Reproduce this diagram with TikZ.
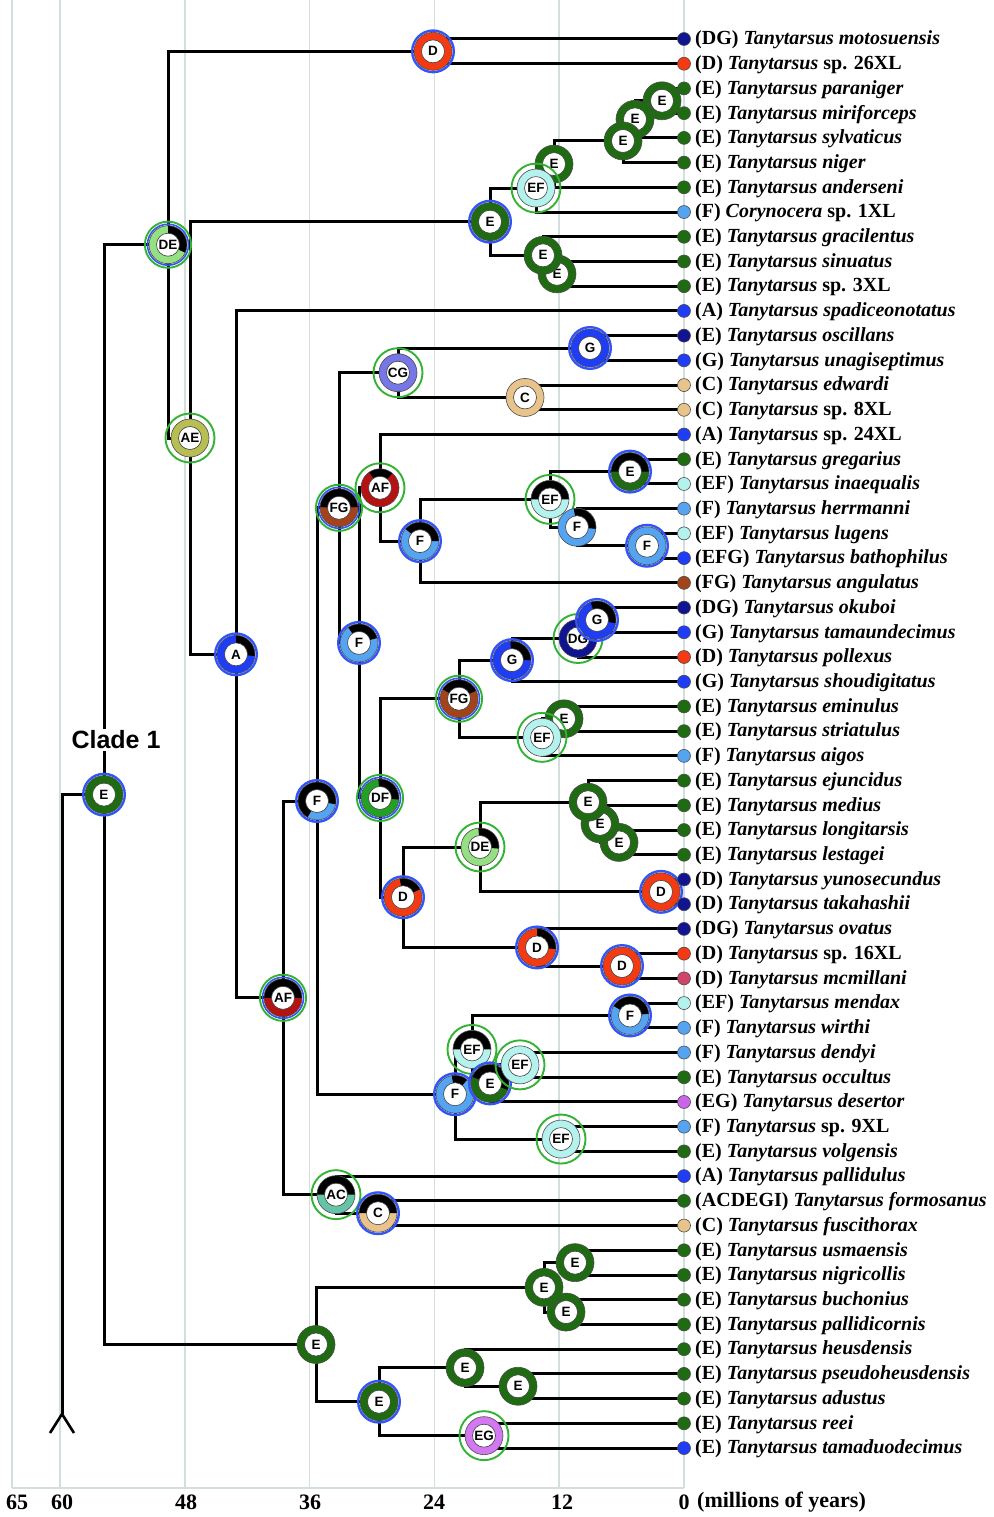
\documentclass[tikz,border=0pt]{standalone}
\usepackage{fontspec}
\setmainfont{Liberation Serif}
\setsansfont{Liberation Sans}
\definecolor{cE}{HTML}{1E6B12}
\definecolor{cD}{HTML}{F43A12}
\definecolor{cN}{HTML}{101490}
\definecolor{cB}{HTML}{1F3DF5}
\definecolor{cF}{HTML}{55A4F2}
\definecolor{cEF}{HTML}{B4F2EE}
\definecolor{cC}{HTML}{E9C38C}
\definecolor{cFG}{HTML}{A3431B}
\definecolor{cAF}{HTML}{B51212}
\definecolor{cDE}{HTML}{94E083}
\definecolor{cAE}{HTML}{B7BF52}
\definecolor{cCG}{HTML}{7676E6}
\definecolor{cDF}{HTML}{22A126}
\definecolor{cAC}{HTML}{66C4A6}
\definecolor{cEG}{HTML}{D477F2}
\definecolor{cMc}{HTML}{D0456A}
\definecolor{cEGt}{HTML}{C865E8}
\definecolor{ringBc}{HTML}{3355F5}
\definecolor{ringGc}{HTML}{33B333}
\definecolor{gridc}{HTML}{D3DEDE}
\newcommand{\pie}[5]{%
  \fill[#2] (#1) circle (19);
  \ifdim #4pt=#5pt\relax\else
    \fill[black] (#1) -- ++(#4:19) arc[start angle=#4,end angle=#5,radius=19] -- cycle;
  \fi
  \draw[ringline] (#1) circle (19);
  \node[lab] (#1l) at (#1) {#3};
}
\newcommand{\ringb}[1]{\draw[ringBc,line width=2.4pt] (#1) circle (20.8);}
\newcommand{\ringg}[1]{\draw[ringGc,line width=1.9pt] (#1) circle (24.5);}
\newcommand{\ringbg}[1]{\draw[ringGc,line width=1.9pt] (#1) circle (23.1);\draw[ringBc,line width=1.6pt] (#1) circle (20.5);}
\begin{document}
\begin{tikzpicture}[x=1pt,y=1pt,
  edge/.style={line width=3pt,black},
  gridln/.style={line width=1.6pt,color=gridc},
  ringline/.style={draw=black!70,line width=0.6pt},
  lab/.style={circle,fill=white,draw=black!75,line width=0.6pt,minimum size=23pt,inner sep=0pt,font=\sffamily\bfseries\fontsize{13.5}{13.5}\selectfont},
  tipdot/.style={circle,draw=black!70,line width=0.6pt,minimum size=13pt,inner sep=0pt},
  tiplab/.style={anchor=west,inner sep=0pt,font=\bfseries\fontsize{20}{20}\selectfont},
  axlab/.style={font=\bfseries\fontsize{22}{22}\selectfont,inner sep=0pt},
  cladelab/.style={fill=white,inner sep=2pt,font=\sffamily\bfseries\fontsize{25}{25}\selectfont}]
\useasboundingbox (0,0) rectangle (993,-1517);
% grid
\foreach \gx in {12,60,184.8,309.6,434.4,559.2,684}{\draw[gridln] (\gx,0) -- (\gx,-1488);}
\draw[gridln] (12,-1488) -- (684,-1488);
% tip coordinates
\foreach \i in {0,...,57}{\coordinate (t\i) at (684,{-39-24.72*\i});}
% internal nodes
\coordinate (d1) at (433,-51.35);
\coordinate (ea) at (662,-100.8);
\coordinate (eb) at (635,-119.35);
\coordinate (ec) at (623,-140.98);
\coordinate (ed) at (554,-164.14);
\coordinate (efe) at (536,-188.07);
\coordinate (ef) at (557,-273.85);
\coordinate (eg) at (543,-255.33);
\coordinate (eh) at (490,-221.7);
\coordinate (g1) at (590,-348.0);
\coordinate (c1) at (525,-397.45);
\coordinate (cg) at (398,-372.7);
\coordinate (e2) at (630,-471.6);
\coordinate (f2) at (647,-545.75);
\coordinate (f3) at (577,-527.2);
\coordinate (ef2) at (550,-499.4);
\coordinate (f4) at (420,-541.1);
\coordinate (af2) at (380,-487.8);
\coordinate (g2) at (597,-619.95);
\coordinate (dg) at (578,-638.5);
\coordinate (g3) at (512,-660.1);
\coordinate (e3) at (564,-718.8);
\coordinate (ef3) at (542,-737.35);
\coordinate (fg2) at (459,-698.7);
\coordinate (e4) at (619,-842.4);
\coordinate (e5) at (600,-823.85);
\coordinate (e6) at (588,-802.2);
\coordinate (d2) at (661,-891.85);
\coordinate (de2) at (480,-847.0);
\coordinate (d3) at (622,-966.0);
\coordinate (d4) at (537,-947.45);
\coordinate (d5) at (403,-897.2);
\coordinate (df) at (380,-797.95);
\coordinate (f5) at (359,-642.9);
\coordinate (fg) at (339,-507.8);
\coordinate (f6) at (630,-1015.45);
\coordinate (ef4) at (520,-1064.85);
\coordinate (e7) at (490,-1083.4);
\coordinate (ef5) at (472,-1049.4);
\coordinate (ef6) at (561,-1139.05);
\coordinate (f7) at (455,-1094.2);
\coordinate (f8) at (317,-801.0);
\coordinate (c2) at (378,-1213.2);
\coordinate (ac) at (336,-1194.65);
\coordinate (af1) at (283,-997.8);
\coordinate (a) at (236,-654.35);
\coordinate (ae) at (190,-438.0);
\coordinate (de1) at (168,-244.7);
\coordinate (e8) at (575,-1262.65);
\coordinate (e9) at (566,-1312.05);
\coordinate (e10) at (544,-1287.35);
\coordinate (e11) at (518,-1386.25);
\coordinate (e12) at (465,-1367.7);
\coordinate (egx) at (484,-1435.65);
\coordinate (e13) at (379,-1401.7);
\coordinate (e14) at (316,-1344.5);
\coordinate (er) at (104,-794.6);
\coordinate (rt) at (62,-794.6);
\coordinate (fk) at (62,-1414);
\coordinate (fl) at (50,-1433);
\coordinate (fr) at (74,-1433);
% edges
\foreach \p/\c in {er/de1,er/e14,de1/d1,de1/ae,d1/t0,d1/t1,ae/eh,ae/a,eh/efe,eh/eg,
  efe/ed,efe/t7,ed/ec,ed/t6,ec/eb,ec/t5,eb/ea,eb/t4,ea/t2,ea/t3,eg/t8,eg/ef,ef/t9,ef/t10,
  a/t11,a/af1,af1/f8,af1/ac,f8/fg,f8/f7,fg/cg,fg/f5,cg/g1,cg/c1,g1/t12,g1/t13,c1/t14,c1/t15,
  f5/af2,f5/df,af2/t16,af2/f4,f4/ef2,f4/t22,ef2/e2,ef2/f3,e2/t17,e2/t18,f3/t19,f3/f2,f2/t20,f2/t21,
  df/fg2,df/d5,fg2/g3,fg2/ef3,g3/dg,g3/t26,dg/g2,dg/t25,g2/t23,g2/t24,ef3/e3,ef3/t29,e3/t27,e3/t28,
  d5/de2,d5/d4,de2/e6,de2/d2,e6/t30,e6/e5,e5/t31,e5/e4,e4/t32,e4/t33,d2/t34,d2/t35,d4/t36,d4/d3,d3/t37,d3/t38,
  f7/ef5,f7/ef6,ef5/f6,ef5/e7,f6/t39,f6/t40,e7/ef4,e7/t43,ef4/t41,ef4/t42,ef6/t44,ef6/t45,
  ac/t46,ac/c2,c2/t47,c2/t48,e14/e10,e14/e13,e10/e8,e10/e9,e8/t49,e8/t50,e9/t51,e9/t52,
  e13/e12,e13/egx,e12/t53,e12/e11,e11/t54,e11/t55,egx/t56,egx/t57}
  {\draw[edge] (\p) |- (\c);}
\draw[edge] (er) -- (rt) -- (fk);
\draw[edge,line width=2.6pt] (fl) -- (fk) -- (fr);
\node[cladelab] (clade) at (116,-740) {Clade 1};
% pies
\ringbg{de1}\pie{de1}{cDE}{DE}{90}{-25}
\ringg{ae}\pie{ae}{cAE}{AE}{0}{0}
\ringb{d1}\pie{d1}{cD}{D}{0}{0}
\pie{ea}{cE}{E}{0}{0}
\pie{eb}{cE}{E}{0}{0}
\pie{ec}{cE}{E}{0}{0}
\pie{ed}{cE}{E}{0}{0}
\ringg{efe}\pie{efe}{cEF}{EF}{0}{0}
\pie{ef}{cE}{E}{0}{0}
\pie{eg}{cE}{E}{0}{0}
\ringb{eh}\pie{eh}{cE}{E}{0}{0}
\ringb{a}\pie{a}{cB}{A}{90}{-5}
\ringbg{af1}\pie{af1}{cAF}{AF}{180}{0}
\ringb{f8}\pie{f8}{cF}{F}{240}{-10}
\ringbg{fg}\pie{fg}{cFG}{FG}{178}{2}
\ringg{cg}\pie{cg}{cCG}{CG}{0}{0}
\ringb{g1}\pie{g1}{cB}{G}{0}{0}
\pie{c1}{cC}{C}{0}{0}
\ringb{f5}\pie{f5}{cF}{F}{125}{15}
\ringg{af2}\pie{af2}{cAF}{AF}{125}{50}
\ringb{f4}\pie{f4}{cF}{F}{140}{0}
\ringg{ef2}\pie{ef2}{cEF}{EF}{180}{0}
\ringb{e2}\pie{e2}{cE}{E}{180}{0}
\pie{f3}{cF}{F}{100}{-5}
\ringb{f2}\pie{f2}{cF}{F}{0}{0}
\ringbg{df}\pie{df}{cDF}{DF}{95}{-5}
\ringbg{fg2}\pie{fg2}{cFG}{FG}{150}{25}
\ringb{g3}\pie{g3}{cB}{G}{95}{0}
\ringg{dg}\pie{dg}{cN}{DG}{0}{0}
\ringb{g2}\pie{g2}{cB}{G}{110}{-10}
\pie{e3}{cE}{E}{0}{0}
\ringg{ef3}\pie{ef3}{cEF}{EF}{0}{0}
\ringb{d5}\pie{d5}{cD}{D}{100}{25}
\ringg{de2}\pie{de2}{cDE}{DE}{95}{-5}
\pie{e4}{cE}{E}{0}{0}
\pie{e5}{cE}{E}{0}{0}
\pie{e6}{cE}{E}{0}{0}
\ringb{d2}\pie{d2}{cD}{D}{0}{0}
\ringb{d4}\pie{d4}{cD}{D}{90}{-5}
\ringb{d3}\pie{d3}{cD}{D}{0}{0}
\ringb{f7}\pie{f7}{cF}{F}{100}{50}
\ringg{ef5}\pie{ef5}{cEF}{EF}{180}{0}
\ringb{f6}\pie{f6}{cF}{F}{150}{5}
\ringb{e7}\pie{e7}{cE}{E}{160}{-20}
\ringg{ef4}\pie{ef4}{cEF}{EF}{0}{0}
\ringg{ef6}\pie{ef6}{cEF}{EF}{0}{0}
\ringg{ac}\pie{ac}{cAC}{AC}{180}{0}
\ringb{c2}\pie{c2}{cC}{C}{180}{0}
\pie{e14}{cE}{E}{0}{0}
\pie{e8}{cE}{E}{0}{0}
\pie{e9}{cE}{E}{0}{0}
\pie{e10}{cE}{E}{0}{0}
\ringb{e13}\pie{e13}{cE}{E}{0}{0}
\pie{e12}{cE}{E}{0}{0}
\pie{e11}{cE}{E}{0}{0}
\ringg{egx}\pie{egx}{cEG}{EG}{0}{0}
\ringb{er}\pie{er}{cE}{E}{0}{0}
% tips
\foreach \i/\c/\txt in {
0/cN/{(DG) \textit{Tanytarsus motosuensis}},
1/cD/{(D) \textit{Tanytarsus} sp. 26XL},
2/cE/{(E) \textit{Tanytarsus paraniger}},
3/cE/{(E) \textit{Tanytarsus miriforceps}},
4/cE/{(E) \textit{Tanytarsus sylvaticus}},
5/cE/{(E) \textit{Tanytarsus niger}},
6/cE/{(E) \textit{Tanytarsus anderseni}},
7/cF/{(F) \textit{Corynocera} sp. 1XL},
8/cE/{(E) \textit{Tanytarsus gracilentus}},
9/cE/{(E) \textit{Tanytarsus sinuatus}},
10/cE/{(E) \textit{Tanytarsus} sp. 3XL},
11/cB/{(A) \textit{Tanytarsus spadiceonotatus}},
12/cN/{(E) \textit{Tanytarsus oscillans}},
13/cB/{(G) \textit{Tanytarsus unagiseptimus}},
14/cC/{(C) \textit{Tanytarsus edwardi}},
15/cC/{(C) \textit{Tanytarsus} sp. 8XL},
16/cB/{(A) \textit{Tanytarsus} sp. 24XL},
17/cE/{(E) \textit{Tanytarsus gregarius}},
18/cEF/{(EF) \textit{Tanytarsus inaequalis}},
19/cF/{(F) \textit{Tanytarsus herrmanni}},
20/cEF/{(EF) \textit{Tanytarsus lugens}},
21/cB/{(EFG) \textit{Tanytarsus bathophilus}},
22/cFG/{(FG) \textit{Tanytarsus angulatus}},
23/cN/{(DG) \textit{Tanytarsus okuboi}},
24/cB/{(G) \textit{Tanytarsus tamaundecimus}},
25/cD/{(D) \textit{Tanytarsus pollexus}},
26/cB/{(G) \textit{Tanytarsus shoudigitatus}},
27/cE/{(E) \textit{Tanytarsus eminulus}},
28/cE/{(E) \textit{Tanytarsus striatulus}},
29/cF/{(F) \textit{Tanytarsus aigos}},
30/cE/{(E) \textit{Tanytarsus ejuncidus}},
31/cE/{(E) \textit{Tanytarsus medius}},
32/cE/{(E) \textit{Tanytarsus longitarsis}},
33/cE/{(E) \textit{Tanytarsus lestagei}},
34/cN/{(D) \textit{Tanytarsus yunosecundus}},
35/cN/{(D) \textit{Tanytarsus takahashii}},
36/cN/{(DG) \textit{Tanytarsus ovatus}},
37/cD/{(D) \textit{Tanytarsus} sp. 16XL},
38/cMc/{(D) \textit{Tanytarsus mcmillani}},
39/cEF/{(EF) \textit{Tanytarsus mendax}},
40/cF/{(F) \textit{Tanytarsus wirthi}},
41/cF/{(F) \textit{Tanytarsus dendyi}},
42/cE/{(E) \textit{Tanytarsus occultus}},
43/cEGt/{(EG) \textit{Tanytarsus desertor}},
44/cF/{(F) \textit{Tanytarsus} sp. 9XL},
45/cE/{(E) \textit{Tanytarsus volgensis}},
46/cB/{(A) \textit{Tanytarsus pallidulus}},
47/cE/{(ACDEGI) \textit{Tanytarsus formosanus}},
48/cC/{(C) \textit{Tanytarsus fuscithorax}},
49/cE/{(E) \textit{Tanytarsus usmaensis}},
50/cE/{(E) \textit{Tanytarsus nigricollis}},
51/cE/{(E) \textit{Tanytarsus buchonius}},
52/cE/{(E) \textit{Tanytarsus pallidicornis}},
53/cE/{(E) \textit{Tanytarsus heusdensis}},
54/cE/{(E) \textit{Tanytarsus pseudoheusdensis}},
55/cE/{(E) \textit{Tanytarsus adustus}},
56/cE/{(E) \textit{Tanytarsus reei}},
57/cB/{(E) \textit{Tanytarsus tamaduodecimus}}}
{\node[tipdot,fill=\c] (dot\i) at (t\i) {};
 \node[tiplab] (lab\i) at ([xshift=11pt,yshift=-1pt]t\i) {\txt};}
% axis
\node[axlab] (ax65) at (17,-1502) {65};
\node[axlab] (ax60) at (62,-1502) {60};
\node[axlab] (ax48) at (186,-1502) {48};
\node[axlab] (ax36) at (310,-1502) {36};
\node[axlab] (ax24) at (434,-1502) {24};
\node[axlab] (ax12) at (562,-1502) {12};
\node[axlab] (ax0) at (684,-1502) {0};
\node[axlab,anchor=west] (axu) at (697,-1502) {(millions of years)};
\end{tikzpicture}
\end{document}
